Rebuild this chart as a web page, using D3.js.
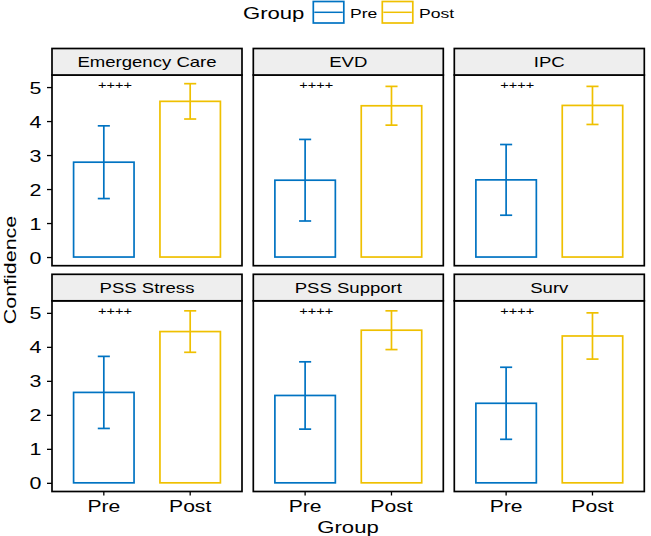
<!DOCTYPE html>
<html>
<head>
<meta charset="utf-8">
<script src="https://cdn.jsdelivr.net/npm/d3@7"></script>
<style>
  html, body { margin: 0; padding: 0; background: #ffffff; }
  svg { display: block; }
  text { font-family: "Liberation Sans", Arial, Helvetica, sans-serif; fill: #000; }
</style>
</head>
<body>
<svg id="chart" width="651" height="536"></svg>
<script>
// ---------- data ----------
const facets = ["Emergency Care", "EVD", "IPC", "PSS Stress", "PSS Support", "Surv"];
const groups = ["Pre", "Post"];
const preMean  = [2.79, 2.26, 2.27, 2.66, 2.57, 2.34];
const preSD    = [1.07, 1.20, 1.04, 1.06, 0.99, 1.06];
const postMean = [4.58, 4.45, 4.46, 4.45, 4.49, 4.32];
const postSD   = [0.52, 0.57, 0.56, 0.61, 0.57, 0.68];
const sigLabels = ["++++", "++++", "++++", "++++", "++++", "++++"];
const sigY = 5.05;
const yTicks = [0, 1, 2, 3, 4, 5];
const groupColors = ["#0073C2", "#EFC000"];

// ---------- layout ----------
const svg = d3.select("#chart");
const colLeft = [52, 253.3, 454.3];
const panelW = 190;
const stripTop = [48.5, 274.3];
const stripH = 26.5;
const panelH = 190.7;
const SX = 1.3; // wide glyphs

const color = d3.scaleOrdinal().domain(groups).range(groupColors);

const allHi = facets.map((f, i) => Math.max(preMean[i] + preSD[i], postMean[i] + postSD[i]));
const dataMax = d3.max(allHi), dataMin = 0;
const pad = (dataMax - dataMin) * 0.05;

function wideText(sel, x, y, str, size, anchor, sx) {
  return sel.append("text")
    .attr("transform", `translate(${x},${y}) scale(${sx},1)`)
    .attr("text-anchor", anchor)
    .style("font-size", size + "px")
    .text(str);
}

facets.forEach((name, i) => {
  const col = i % 3, row = Math.floor(i / 3);
  const left = colLeft[col];
  const sTop = stripTop[row];
  const pTop = sTop + stripH;
  const pBot = pTop + panelH;

  const x = d3.scaleBand().domain(groups).range([left, left + panelW])
    .paddingInner(0.3).paddingOuter(0.25);
  const y = d3.scaleLinear().domain([dataMin - pad, dataMax + pad]).range([pBot, pTop]);

  const g = svg.append("g");

  g.append("rect").attr("x", left).attr("y", pTop).attr("width", panelW).attr("height", panelH)
    .attr("fill", "#fff");

  const vals = [
    { grp: "Pre", m: preMean[i], s: preSD[i] },
    { grp: "Post", m: postMean[i], s: postSD[i] }
  ];

  g.selectAll("rect.bar").data(vals).enter().append("rect")
    .attr("class", "bar")
    .attr("x", d => x(d.grp))
    .attr("width", x.bandwidth())
    .attr("y", d => y(d.m))
    .attr("height", d => y(0) - y(d.m))
    .attr("fill", "#fff")
    .attr("stroke", d => color(d.grp))
    .attr("stroke-width", 1.7);

  const capW = x.step() * 0.14;
  vals.forEach(d => {
    const cx = x(d.grp) + x.bandwidth() / 2;
    const c = color(d.grp);
    g.append("line").attr("x1", cx).attr("x2", cx)
      .attr("y1", y(d.m - d.s)).attr("y2", y(d.m + d.s))
      .attr("stroke", c).attr("stroke-width", 1.7);
    [d.m - d.s, d.m + d.s].forEach(v => {
      g.append("line").attr("x1", cx - capW / 2).attr("x2", cx + capW / 2)
        .attr("y1", y(v)).attr("y2", y(v))
        .attr("stroke", c).attr("stroke-width", 1.7);
    });
  });

  const lx = x("Pre") + x.bandwidth() / 2 + x.step() * 0.13;
  wideText(g, lx, y(sigY) + 3.9, sigLabels[i], 11.2, "middle", SX);

  g.append("rect").attr("x", left).attr("y", pTop).attr("width", panelW).attr("height", panelH)
    .attr("fill", "none").attr("stroke", "#000").attr("stroke-width", 1.7);

  g.append("rect").attr("x", left).attr("y", sTop).attr("width", panelW).attr("height", stripH)
    .attr("fill", "#EEEEEE").attr("stroke", "#000").attr("stroke-width", 1.7);
  wideText(g, left + panelW / 2, sTop + stripH / 2 + 5.2, name, 14.5, "middle", 1.28)
    .style("font-weight", "normal");

  if (col === 0) {
    const ay = g.append("g").attr("transform", `translate(${left},0)`)
      .call(d3.axisLeft(y).tickValues(yTicks).tickSize(5).tickSizeOuter(0).tickFormat(d3.format("d")));
    ay.attr("font-family", null).attr("font-size", null);
    ay.select(".domain").remove();
    ay.selectAll(".tick line").attr("stroke", "#000").attr("stroke-width", 1.3);
    ay.selectAll(".tick text")
      .attr("x", null).attr("dy", null)
      .attr("transform", "translate(-10.5,6) scale(1.3,1)")
      .attr("text-anchor", "end")
      .style("font-size", "16.5px");
  }
  if (row === 1) {
    const ax = g.append("g").attr("transform", `translate(0,${pBot})`)
      .call(d3.axisBottom(x).tickSize(4).tickSizeOuter(0));
    ax.attr("font-family", null).attr("font-size", null);
    ax.select(".domain").remove();
    ax.selectAll(".tick line").attr("stroke", "#000").attr("stroke-width", 1.3);
    ax.selectAll(".tick text")
      .attr("y", null).attr("dy", null)
      .attr("transform", "translate(0,20.8) scale(1.32,1)")
      .attr("text-anchor", "middle")
      .style("font-size", "16px");
  }
});

// axis titles
wideText(svg, 348, 532.5, "Group", 17, "middle", SX);
svg.append("text")
  .attr("transform", `translate(15.5,270) rotate(-90) scale(${SX},1)`)
  .attr("text-anchor", "middle")
  .style("font-size", "16.5px")
  .text("Confidence");

// legend
const leg = svg.append("g");
wideText(leg, 243, 18.5, "Group", 17, "start", SX);
const legX = [313.3, 382.3];
const legLabX = [350, 419];
groups.forEach((gName, k) => {
  leg.append("rect").attr("x", legX[k]).attr("y", 1.5).attr("width", 30.5).attr("height", 21.5)
    .attr("fill", "#fff").attr("stroke", color(gName)).attr("stroke-width", 1.7);
  leg.append("line").attr("x1", legX[k] + 1).attr("x2", legX[k] + 29.5)
    .attr("y1", 12.3).attr("y2", 12.3)
    .attr("stroke", color(gName)).attr("stroke-width", 1.5);
  wideText(leg, legLabX[k], 17.5, gName, 13.5, "start", SX);
});
</script>
</body>
</html>
